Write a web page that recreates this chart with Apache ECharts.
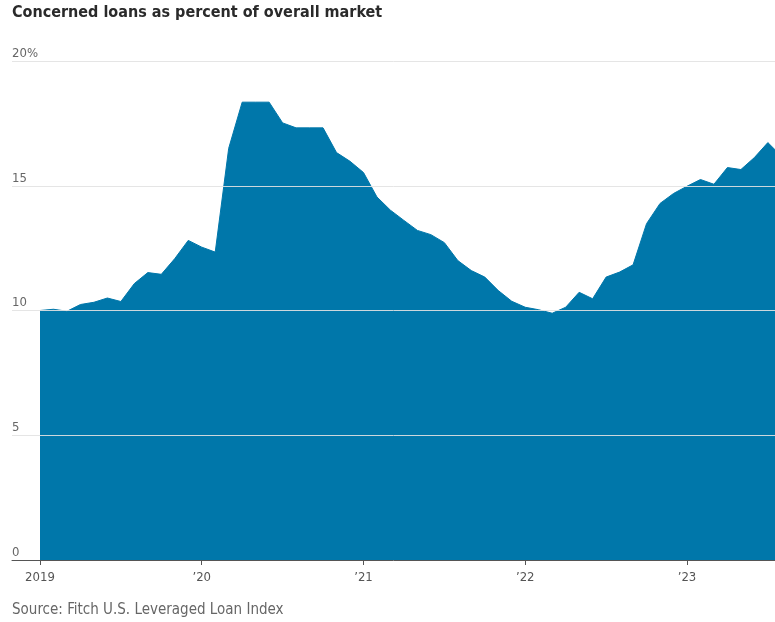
<!DOCTYPE html>
<html>
<head>
<meta charset="utf-8">
<script src="https://cdn.jsdelivr.net/npm/echarts@6/dist/echarts.min.js"></script>
<style>
  html, body { margin: 0; padding: 0; background: #fff; }
  #chart { width: 775px; height: 622px; }
</style>
</head>
<body>
<div id="chart"></div>
<script>
// Monthly observations, Jan 2019 – Aug 2023
const months = [];
for (let y = 2019; y <= 2023; y++) {
  for (let m = 1; m <= 12; m++) {
    if (y === 2023 && m > 8) break;
    months.push(y + '-' + String(m).padStart(2, '0'));
  }
}

// Concerned loans, % of overall market
const concernedPct = [
  10.0, 10.05, 9.97, 10.24, 10.33, 10.5, 10.36, 11.08, 11.52, 11.45, 12.08, 12.81,
  12.54, 12.34, 16.5, 18.35, 18.35, 18.35, 17.52, 17.32, 17.32, 17.32, 16.33, 15.98,
  15.53, 14.55, 14.02, 13.61, 13.21, 13.04, 12.72, 12.0, 11.6, 11.34, 10.8, 10.37,
  10.13, 10.03, 9.89, 10.13, 10.73, 10.47, 11.34, 11.54, 11.83, 13.48, 14.29, 14.69,
  14.98, 15.25, 15.06, 15.73, 15.65, 16.13, 16.73, 16.19
];

// Year ticks (month index) and their labels
const yearTickIdx = [0, 12, 24, 36, 48];
const yearTickLabels = ['2019', '\u201920', '\u201921', '\u201922', '\u201923'];

const FONT = "'Liberation Sans Narrow', 'DejaVu Sans Condensed', sans-serif";

const chart = echarts.init(document.getElementById('chart'), null, { renderer: 'canvas' });

chart.setOption({
  backgroundColor: '#ffffff',
  animation: false,
  title: [
    {
      text: 'Concerned loans as percent of overall market',
      left: 12,
      top: 5,
      padding: 0,
      textStyle: { fontFamily: FONT, fontWeight: 'bold', fontSize: 16, color: '#2a2a2a' }
    },
    {
      text: 'Source: Fitch U.S. Leveraged Loan Index',
      left: 12,
      top: 603,
      padding: 0,
      textStyle: { fontFamily: FONT, fontWeight: 'normal', fontSize: 15, color: '#666' }
    }
  ],
  grid: { left: 12, right: 0, top: 61, bottom: 62, containLabel: false },
  xAxis: {
    type: 'value',
    min: -2.077,
    max: 54.53,
    z: 4,
    axisLine: { show: true, lineStyle: { color: '#555', width: 1 } },
    axisTick: { show: true, length: 5, customValues: yearTickIdx, lineStyle: { color: '#555' } },
    axisLabel: {
      customValues: yearTickIdx,
      margin: 11,
      fontFamily: FONT,
      fontSize: 13,
      color: '#555',
      formatter: function (v) {
        const k = yearTickIdx.indexOf(Math.round(v));
        return k >= 0 ? yearTickLabels[k] : '';
      }
    },
    splitLine: { show: false }
  },
  yAxis: {
    type: 'value',
    min: 0,
    max: 20,
    interval: 5,
    z: 3,
    axisLine: { show: false },
    axisTick: { show: false },
    axisLabel: {
      inside: true,
      margin: 0,
      verticalAlign: 'bottom',
      padding: [0, 0, 1, 0],
      fontFamily: FONT,
      fontSize: 13,
      color: '#666',
      formatter: function (v) { return v === 20 ? '20%' : String(v); }
    },
    splitLine: { show: true, lineStyle: { color: 'rgba(226,226,226,0.9)', width: 1 } }
  },
  series: [{
    type: 'line',
    data: concernedPct.map(function (v, i) { return [i, v]; }),
    symbol: 'none',
    z: 2,
    lineStyle: { width: 1, color: '#0077aa' },
    areaStyle: { color: '#0077aa', opacity: 1 },
    clip: true
  }]
});
</script>
</body>
</html>
